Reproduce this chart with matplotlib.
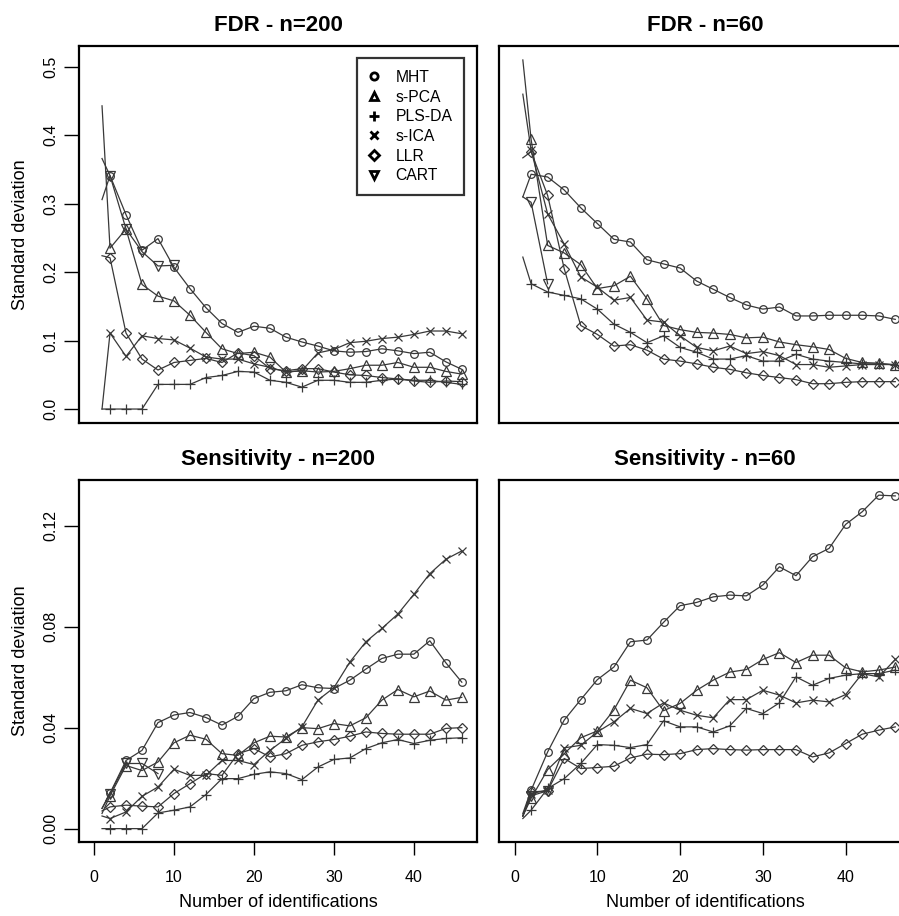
import numpy as np
import matplotlib
matplotlib.use('Agg')
import matplotlib.pyplot as plt
from matplotlib.lines import Line2D

plt.rcParams['font.family'] = ['Liberation Sans', 'DejaVu Sans']

# x positions: start point, then every even number of identifications
x = [1] + list(range(2, 47, 2))
nan = np.nan

methods = ['MHT', 's-PCA', 'PLS-DA', 's-ICA', 'LLR', 'CART']
markers = ['o', '^', '+', 'x', 'D', 'v']
msizes = [5.5, 6.5, 7.5, 6, 5, 6.5]

# FDR - n=200
fdr200_mht = [0.306, 0.341, 0.284, 0.232, 0.249, 0.207, 0.176, 0.148, 0.125, 0.112, 0.121, 0.118,
              0.105, 0.098, 0.092, 0.085, 0.083, 0.084, 0.088, 0.085, 0.081, 0.083, 0.069, 0.058]
fdr200_spca = [0.443, 0.235, 0.263, 0.182, 0.165, 0.158, 0.137, 0.112, 0.088, 0.081, 0.083, 0.076,
               0.054, 0.056, 0.054, 0.055, 0.059, 0.064, 0.064, 0.068, 0.061, 0.061, 0.055, 0.051]
fdr200_plsda = [0.0, 0.0, 0.0, 0.0, 0.036, 0.036, 0.036, 0.046, 0.049, 0.055, 0.054, 0.042,
                0.039, 0.032, 0.042, 0.042, 0.039, 0.039, 0.042, 0.044, 0.042, 0.042, 0.039, 0.036]
fdr200_sica = [0.0, 0.111, 0.077, 0.107, 0.103, 0.101, 0.089, 0.076, 0.073, 0.073, 0.066, 0.061,
               0.054, 0.056, 0.082, 0.087, 0.097, 0.099, 0.103, 0.105, 0.109, 0.114, 0.114, 0.110]
fdr200_llr = [0.224, 0.221, 0.111, 0.073, 0.057, 0.068, 0.071, 0.074, 0.068, 0.082, 0.078, 0.059,
              0.056, 0.059, 0.059, 0.054, 0.050, 0.049, 0.046, 0.044, 0.041, 0.039, 0.041, 0.040]
fdr200_cart = [0.366, 0.341, 0.263, 0.230, 0.209, 0.210] + [nan] * 18

# FDR - n=60
fdr60_mht = [0.310, 0.343, 0.339, 0.320, 0.294, 0.271, 0.248, 0.244, 0.218, 0.212, 0.206, 0.187,
             0.175, 0.163, 0.152, 0.146, 0.149, 0.136, 0.136, 0.137, 0.137, 0.137, 0.136, 0.131]
fdr60_spca = [0.510, 0.394, 0.239, 0.228, 0.211, 0.176, 0.180, 0.194, 0.161, 0.122, 0.116, 0.112,
              0.111, 0.109, 0.104, 0.105, 0.098, 0.094, 0.091, 0.087, 0.074, 0.068, 0.067, 0.064]
fdr60_plsda = [0.222, 0.183, 0.171, 0.166, 0.161, 0.146, 0.124, 0.112, 0.097, 0.107, 0.090, 0.083,
               0.073, 0.073, 0.078, 0.070, 0.070, 0.080, 0.073, 0.070, 0.068, 0.066, 0.066, 0.065]
fdr60_sica = [0.460, 0.378, 0.285, 0.241, 0.193, 0.178, 0.159, 0.163, 0.130, 0.127, 0.107, 0.090,
              0.085, 0.092, 0.081, 0.084, 0.078, 0.065, 0.065, 0.061, 0.063, 0.065, 0.065, 0.065]
fdr60_llr = [0.367, 0.376, 0.312, 0.205, 0.122, 0.109, 0.092, 0.094, 0.086, 0.073, 0.070, 0.066,
             0.061, 0.058, 0.053, 0.049, 0.046, 0.043, 0.037, 0.037, 0.039, 0.040, 0.040, 0.040]
fdr60_cart = [0.310, 0.302, 0.183] + [nan] * 21

# Sensitivity - n=200
sens200_mht = [0.008, 0.014, 0.027, 0.031, 0.042, 0.045, 0.046, 0.044, 0.041, 0.0445, 0.0515, 0.054,
               0.0546, 0.057, 0.0558, 0.0555, 0.0588, 0.0632, 0.0674, 0.0691, 0.0691, 0.0744, 0.0657, 0.058]
sens200_spca = [0.006, 0.013, 0.025, 0.023, 0.0264, 0.034, 0.037, 0.0354, 0.0297, 0.029, 0.034, 0.0366,
                0.0363, 0.040, 0.0396, 0.0416, 0.0407, 0.0439, 0.0509, 0.0551, 0.0522, 0.0545, 0.0509, 0.052]
sens200_plsda = [0.0, 0.0, 0.0, 0.0, 0.0062, 0.0073, 0.0086, 0.0135, 0.0198, 0.0198, 0.0215, 0.0225,
                 0.0218, 0.0194, 0.0244, 0.0274, 0.028, 0.0317, 0.034, 0.0353, 0.0337, 0.035, 0.0357, 0.036]
sens200_sica = [0.005, 0.004, 0.0066, 0.0128, 0.0165, 0.0235, 0.0211, 0.0211, 0.027, 0.027, 0.0254, 0.031,
                0.0357, 0.0403, 0.0509, 0.0558, 0.066, 0.074, 0.0793, 0.085, 0.0928, 0.101, 0.1067, 0.110]
sens200_llr = [0.007, 0.0086, 0.0093, 0.0089, 0.0086, 0.0139, 0.0178, 0.0218, 0.0211, 0.0297, 0.0317, 0.0284,
               0.0297, 0.033, 0.0344, 0.0353, 0.0366, 0.0383, 0.0377, 0.0374, 0.0374, 0.0374, 0.0397, 0.040]
sens200_cart = [0.008, 0.0139, 0.0258, 0.0258, 0.0218] + [nan] * 19

# Sensitivity - n=60
sens60_mht = [0.006, 0.0152, 0.0304, 0.043, 0.0511, 0.059, 0.064, 0.074, 0.0747, 0.0817, 0.0883, 0.0896,
              0.0918, 0.0925, 0.0922, 0.0965, 0.1037, 0.1002, 0.1077, 0.111, 0.1205, 0.1255, 0.1321, 0.1318]
sens60_spca = [0.005, 0.012, 0.0234, 0.0297, 0.036, 0.0387, 0.047, 0.0588, 0.0558, 0.0467, 0.0496, 0.0548,
               0.0588, 0.062, 0.063, 0.067, 0.0697, 0.0658, 0.0687, 0.0687, 0.0637, 0.0621, 0.0628, 0.064]
sens60_plsda = [0.004, 0.0073, 0.0159, 0.0198, 0.0258, 0.0333, 0.033, 0.0321, 0.0333, 0.0427, 0.0403, 0.0403,
                0.0383, 0.0407, 0.0476, 0.0456, 0.0498, 0.0601, 0.0568, 0.0595, 0.0608, 0.0614, 0.0614, 0.0628]
sens60_sica = [0.005, 0.0139, 0.0152, 0.032, 0.033, 0.0383, 0.0423, 0.0476, 0.0456, 0.0498, 0.0469, 0.0449,
               0.0439, 0.0511, 0.0511, 0.0548, 0.0529, 0.0498, 0.0509, 0.0502, 0.0531, 0.0614, 0.0601, 0.067]
sens60_llr = [0.005, 0.0145, 0.015, 0.0278, 0.0238, 0.0242, 0.0247, 0.028, 0.0295, 0.0293, 0.0297, 0.0313,
              0.0317, 0.0313, 0.0311, 0.0313, 0.0313, 0.0313, 0.0284, 0.030, 0.0337, 0.0374, 0.039, 0.0403]
sens60_cart = [0.005, 0.013, 0.015] + [nan] * 21

panels = [
    ('FDR - n=200', [fdr200_mht, fdr200_spca, fdr200_plsda, fdr200_sica, fdr200_llr, fdr200_cart]),
    ('FDR - n=60', [fdr60_mht, fdr60_spca, fdr60_plsda, fdr60_sica, fdr60_llr, fdr60_cart]),
    ('Sensitivity - n=200', [sens200_mht, sens200_spca, sens200_plsda, sens200_sica, sens200_llr, sens200_cart]),
    ('Sensitivity - n=60', [sens60_mht, sens60_spca, sens60_plsda, sens60_sica, sens60_llr, sens60_cart]),
]

W, H = 899, 916
fig = plt.figure(figsize=(W / 100, H / 100), dpi=100)

def box(l, r, t, b):
    return [l / W, 1 - b / H, (r - l) / W, (b - t) / H]

rects = [box(79, 477, 46, 423), box(499, 911, 46, 423),
         box(79, 477, 480, 842), box(499, 911, 480, 842)]

col = '#383838'
for i, (title, series) in enumerate(panels):
    ax = fig.add_axes(rects[i])
    for vals, m, ms in zip(series, markers, msizes):
        ax.plot(x, vals, color=col, lw=0.9, marker=m, ms=ms, mfc='none', mec=col,
                mew=0.9, markevery=slice(1, None))
    ax.set_xlim(-1.88, 47.9)
    if i < 2:
        ax.set_ylim(-0.0204, 0.5304)
        ax.set_yticks([0.0, 0.1, 0.2, 0.3, 0.4, 0.5])
        ax.set_yticklabels(['0.0', '0.1', '0.2', '0.3', '0.4', '0.5'])
        ax.set_xticks([])
    else:
        ax.set_ylim(-0.0053, 0.1381)
        ax.set_yticks([0.0, 0.04, 0.08, 0.12])
        ax.set_yticklabels(['0.00', '0.04', '0.08', '0.12'])
        ax.set_xticks([0, 10, 20, 30, 40])
        ax.set_xlabel('Number of identifications', fontsize=13, labelpad=6)
    if i % 2 == 1:
        ax.set_yticks([])
    else:
        ax.set_ylabel('Standard deviation', fontsize=13, labelpad=10)
    for lab in ax.get_yticklabels():
        lab.set_rotation(90)
        lab.set_va('center')
    ax.tick_params(axis='y', length=11, width=1, pad=4, labelsize=11.5)
    ax.tick_params(axis='x', length=9.5, width=1, pad=11, labelsize=11.5)
    for s in ax.spines.values():
        s.set_linewidth(1.6)
    ax.set_title(title, fontsize=16, fontweight='bold', pad=11)

    if i == 0:
        handles = [Line2D([], [], ls='none', marker=m, ms=ms * 0.95, mfc='none', mec='black', mew=2)
                   for m, ms in zip(markers, msizes)]
        leg = ax.legend(handles, methods, loc='upper left', bbox_to_anchor=(0.698, 0.968),
                        fontsize=11.3, frameon=True, fancybox=False, borderaxespad=0,
                        handlelength=0.7, handletextpad=1.0, labelspacing=0.3,
                        borderpad=0.75)
        leg.get_frame().set_edgecolor('black')
        leg.get_frame().set_linewidth(1.6)

fig.savefig('out.png', dpi=100)
